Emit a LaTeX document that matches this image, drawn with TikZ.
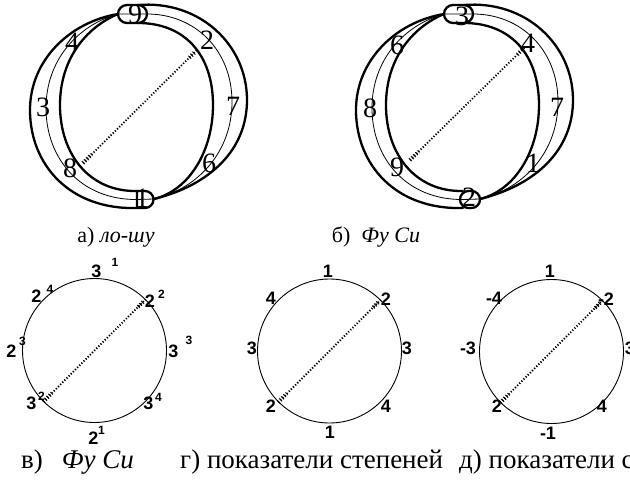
\documentclass[tikz,border=0pt]{standalone}
\usepackage{fontspec}
\setmainfont{Liberation Serif}
\newfontfamily\lblfont{Liberation Sans}
\usetikzlibrary{calc}
\tikzset{
  heavy/.style={line width=2.3pt, line join=round, line cap=round},
  thinl/.style={line width=0.8pt},
  dotline/.style={line width=1.8pt, dash pattern=on 1.2pt off 1.8pt},
  endtick/.style={line width=4pt, dash pattern=on 0.9pt off 2pt},
  ring/.style={circle, draw, line width=0.9pt, inner sep=0pt, minimum size=144pt},
  captop/.style={font=\fontsize{22}{26}\selectfont, inner sep=0pt},
  capbot/.style={font=\fontsize{27}{30}\selectfont, inner sep=0pt, anchor=base west},
  bigd/.style={font=\fontsize{28}{28}\selectfont, inner sep=0pt},
  sd/.style={font=\lblfont\bfseries\fontsize{18}{18}\selectfont, inner sep=0pt},
  ss/.style={font=\lblfont\bfseries\fontsize{12}{12}\selectfont, inner sep=0pt}
}
\newcommand\ringshape{%
  \draw[heavy] (138,5) .. controls (200,0) and (247,45) .. (247,100) .. controls (247,150) and (210,185) .. (154,199);
  \draw[heavy] (138,23) .. controls (185,23) and (213,55) .. (213,105) .. controls (213,150) and (190,190) .. (154,199);
  \draw[thinl] (118,14) -- (147,14) .. controls (195,14) and (232,50) .. (232,102) .. controls (232,150) and (200,188) .. (154,199);
  \draw[heavy] (137,208) .. controls (70,210) and (30,165) .. (30,110) .. controls (30,60) and (70,22) .. (118,14);
  \draw[heavy] (137,191) .. controls (90,192) and (60,155) .. (60,105) .. controls (60,60) and (85,28) .. (118,14);
  \draw[thinl] (154,199) -- (137,199.5) .. controls (80,200) and (46,158) .. (46,108) .. controls (46,60) and (78,25) .. (118,14);
  \draw[heavy, rounded corners=9pt] (118,5) rectangle (147,23);
}
\newcommand\dotchord[2]{%
  \draw[dotline] (#1) -- (#2);
  \draw[endtick] (#1) -- ($(#1)!12pt!(#2)$);
  \draw[endtick] ($(#2)!4pt!(#1)$) -- ($(#2)!12pt!(#1)$);
}
\begin{document}
\begin{tikzpicture}[x=1pt,y=-1pt]
\useasboundingbox (0,0) rectangle (630,482);
\clip (0,0) rectangle (630,482);

% ---------- a) lo-shu ----------
\ringshape
\draw[heavy] (137,191) -- (145,191) arc[start angle=-90,end angle=90,radius=8.5] -- (137,208) -- cycle;
\coordinate (a8) at (83,163);
\coordinate (a2) at (197,50);
\dotchord{a8}{a2}
\node[bigd] (a9) at (135,14) {9};
\node[bigd] (a2l) at (207,40) {2};
\node[bigd] (a4) at (72,42) {4};
\node[bigd] (a3) at (43,107) {3};
\node[bigd] (a7) at (233,106) {7};
\node[bigd] (a8l) at (70,168) {8};
\node[bigd] (a6) at (209,163) {6};
\node[bigd] (a1) at (142,198) {1};

% ---------- b) Fu Si ----------
\begin{scope}[xshift=326pt]
\ringshape
\draw[heavy, rounded corners=8.5pt] (134,191) rectangle (154,208);
\coordinate (b9) at (84,160);
\coordinate (b4) at (199,47);
\dotchord{b9}{b4}
\end{scope}
\node[bigd] (b3) at (462,16) {3};
\node[bigd] (b4l) at (528,43) {4};
\node[bigd] (b6) at (397,45) {6};
\node[bigd] (b8) at (370,108) {8};
\node[bigd] (b7) at (557,107) {7};
\node[bigd] (b9l) at (397,167) {9};
\node[bigd] (b1) at (533,163) {1};
\node[bigd] (b2) at (469,197) {2};

\node[captop] (capa) at (116,237) {а) \textit{ло-шу}};
\node[captop] (capb) at (376,237) {б)\ \ \textit{Фу Си}};

% ---------- v) ----------
\node[ring] (cv) at (94.5,350.5) {};
\dotchord{cv.225}{cv.45}
\node[sd] (v1) at (96.5,271.5) {3}; \node[ss] (v1s) at (115,262) {1};
\node[sd] (v2) at (36.5,296.5) {2}; \node[ss] (v2s) at (50,289) {4};
\node[sd] (v3) at (150,301) {2}; \node[ss] (v3s) at (161.5,294) {2};
\node[sd] (v4) at (11.5,351.5) {2}; \node[ss] (v4s) at (22.5,341) {3};
\node[sd] (v5) at (173.5,351.5) {3}; \node[ss] (v5s) at (189,340) {3};
\node[sd] (v6) at (31.5,403.5) {3}; \node[ss] (v6s) at (41.5,396) {2};
\node[sd] (v7) at (148.5,403.5) {3}; \node[ss] (v7s) at (158.5,397) {4};
\node[sd] (v8) at (93.5,438.5) {2}; \node[ss] (v8s) at (101.5,430) {1};

% ---------- g) ----------
\node[ring] (cg) at (329.5,351) {};
\dotchord{cg.225}{cg.45}
\node[sd] (g1) at (328,271) {1};
\node[sd] (g2) at (271,298) {4};
\node[sd] (g3) at (386,299) {2};
\node[sd] (g4) at (252,348) {3};
\node[sd] (g5) at (407,348) {3};
\node[sd] (g6) at (271,406) {2};
\node[sd] (g7) at (386,406) {4};
\node[sd] (g8) at (330,432) {1};

% ---------- d) ----------
\node[ring] (cd) at (551.5,351.5) {};
\dotchord{cd.225}{cd.45}
\node[sd] (d1) at (550,271) {1};
\node[sd] (d2) at (494,298) {-4};
\node[sd] (d3) at (606,299) {-2};
\node[sd] (d4) at (468,348) {-3};
\node[sd] (d5) at (630,348) {3};
\node[sd] (d6) at (497,406) {2};
\node[sd] (d7) at (602,406) {4};
\node[sd] (d8) at (548,433) {-1};

\node[capbot] (capv) at (21,468) {в)\hspace{19pt}\textit{Фу Си}};
\node[capbot] (capg) at (180,468) {г) показатели степеней};
\node[capbot] (capd) at (459,468) {д) показатели степеней};
\end{tikzpicture}
\end{document}
